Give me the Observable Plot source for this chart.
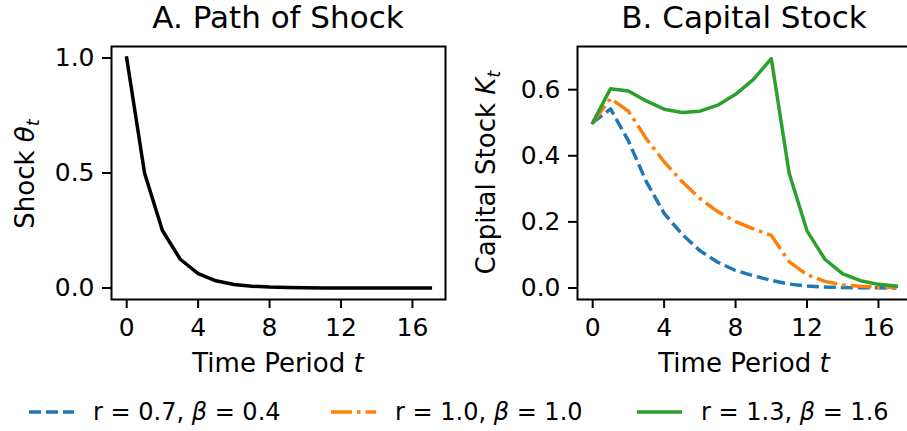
<!DOCTYPE html>
<html><head><meta charset="utf-8">
<script src="https://cdn.jsdelivr.net/npm/d3@7"></script>
<script src="https://cdn.jsdelivr.net/npm/@observablehq/plot@0.6"></script>
<style>
html,body{margin:0;padding:0;background:#fff;overflow:hidden;width:907px;height:431px;}
#root{position:relative;width:907px;height:431px;overflow:hidden;font-family:"DejaVu Sans",sans-serif;}
.panel{position:absolute;top:0;width:460px;height:385px;}
.panel svg{max-width:none !important;width:460px;height:385px;}
#overlay{position:absolute;left:0;top:0;pointer-events:none;}
</style>
</head><body>
<div id="root">
  <div id="panelA" class="panel" style="left:0px"></div>
  <div id="panelB" class="panel" style="left:466px"></div>
</div>
<script>
// ---- data ----
const periods = [0,1,2,3,4,5,6,7,8,9,10,11,12,13,14,15,16,17];
const shock = [1.0,0.5,0.25,0.125,0.0625,0.03125,0.0156,0.0078,0.0039,0.00195,0.00098,0.00049,0.00024,0.00012,0.00006,0.00003,0.000015,0.000008];
const capitalLow  = [0.5,0.542,0.445,0.322,0.226,0.163,0.113,0.078,0.053,0.037,0.023,0.012,0.006,0.003,0.0015,0.0008,0.0004,0.0002];
const capitalMid  = [0.5,0.573,0.535,0.452,0.382,0.322,0.271,0.231,0.201,0.179,0.159,0.080,0.040,0.020,0.010,0.005,0.0025,0.0012];
const capitalHigh = [0.5,0.603,0.596,0.566,0.541,0.531,0.535,0.553,0.586,0.631,0.694,0.347,0.173,0.087,0.043,0.022,0.011,0.006];
const xTicks = [0,4,8,12,16];
const shockTicks = [0,0.5,1.0];
const capitalTicks = [0,0.2,0.4,0.6];
const titles = ["A. Path of Shock","B. Capital Stock"];
const seriesLabels = [["0.7","0.4"],["1.0","1.0"],["1.3","1.6"]];
const colors = ["#1f77b4","#ff7f0e","#2ca02c"];
const dashes = ["12,5","21,5,3.5,5",null];

const common = {
  width:460, height:385, marginLeft:111, marginRight:15, marginTop:46, marginBottom:86,
  style:{fontFamily:"DejaVu Sans", fontSize:"25px", color:"black", background:"transparent", overflow:"visible"}
};
const fmt = d3.format(".1f");
const axes = (yt) => [
  Plot.axisX({ticks:xTicks, tickSize:9, tickPadding:10, label:null, strokeWidth:2, tickFormat:d=>String(d)}),
  Plot.axisY({ticks:yt, tickSize:9, tickPadding:8, label:null, strokeWidth:2, tickFormat:fmt})
];

const A = Plot.plot({
  ...common,
  x:{domain:[-0.85,17.85]},
  y:{domain:[-0.05,1.05]},
  marks:[
    ...axes(shockTicks),
    Plot.line(periods,{x:periods, y:shock, stroke:"black", strokeWidth:3.5, strokeLinejoin:"round", strokeLinecap:"square"}),
    Plot.frame({stroke:"black", strokeWidth:2})
  ]
});
document.getElementById("panelA").appendChild(A);

const capSeries = [capitalLow, capitalMid, capitalHigh];
const B = Plot.plot({
  ...common,
  x:{domain:[-0.85,17.85]},
  y:{domain:[-0.0348,0.7306]},
  marks:[
    ...axes(capitalTicks),
    ...capSeries.map((s,i)=>Plot.line(periods,{x:periods, y:s, stroke:colors[i], strokeWidth:3.5,
        strokeDasharray:dashes[i]||undefined, strokeLinejoin:"round", strokeLinecap: dashes[i] ? "butt" : "square"})),
    Plot.frame({stroke:"black", strokeWidth:2})
  ]
});
document.getElementById("panelB").appendChild(B);

// ---- text overlay: titles, axis labels, legend ----
const ov = d3.select("#root").append("svg").attr("id","overlay").attr("width",907).attr("height",431)
  .style("font-family","DejaVu Sans").attr("fill","black");
const centers = [278, 744];
titles.forEach((t,i)=>{
  ov.append("text").attr("x",centers[i]).attr("y",28).attr("text-anchor","middle")
    .style("font-size","31px").text(t);
  const xl = ov.append("text").attr("x",centers[i]).attr("y",372).attr("text-anchor","middle").style("font-size","26px");
  xl.append("tspan").text("Time Period ");
  xl.append("tspan").attr("font-style","italic").text("t");
});
const yl1 = ov.append("text").attr("transform","translate(34,174) rotate(-90)").attr("text-anchor","middle").style("font-size","26px");
yl1.append("tspan").text("Shock ");
yl1.append("tspan").attr("font-style","italic").text("θ");
yl1.append("tspan").attr("font-style","italic").attr("dy",5).style("font-size","18px").text("t");
const yl2 = ov.append("text").attr("transform","translate(495,172.5) rotate(-90)").attr("text-anchor","middle").style("font-size","26px");
yl2.append("tspan").text("Capital Stock ");
yl2.append("tspan").attr("font-style","italic").text("K");
yl2.append("tspan").attr("font-style","italic").attr("dy",5).style("font-size","18px").text("t");

const legX = [29, 331, 637];
seriesLabels.forEach((lab,i)=>{
  const x0 = legX[i];
  const ln = ov.append("line").attr("x1",x0).attr("x2",x0+45).attr("y1",412).attr("y2",412)
    .attr("stroke",colors[i]).attr("stroke-width",3.5);
  if (dashes[i]) ln.attr("stroke-dasharray",dashes[i]);
  const tx = ov.append("text").attr("x",x0+64).attr("y",420).style("font-size","24px");
  tx.append("tspan").text(`r = ${lab[0]}, `);
  tx.append("tspan").attr("font-style","italic").text("β");
  tx.append("tspan").text(` = ${lab[1]}`);
});
</script>
</body></html>
